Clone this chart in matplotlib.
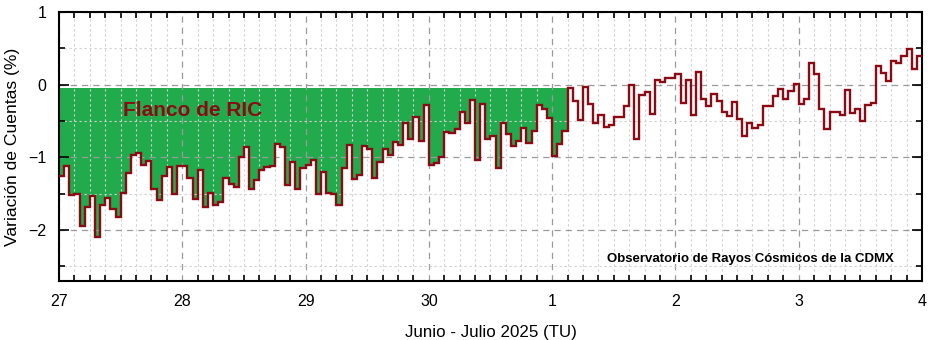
import numpy as np
import matplotlib
matplotlib.use("Agg")
import matplotlib.pyplot as plt
from matplotlib.ticker import MultipleLocator

# hourly count variation (%), one list per day (UT)
jun27 = [-1.26, -1.12, -1.52, -1.51, -1.95, -1.68, -1.53, -2.09, -1.66, -1.56, -1.71, -1.82,
         -1.49, -1.22, -0.97, -0.94, -1.10, -1.05, -1.43, -1.58, -1.25, -1.13, -1.50, -1.12]
jun28 = [-1.12, -1.28, -1.57, -1.18, -1.68, -1.49, -1.66, -1.61, -1.29, -1.37, -1.41, -0.99,
         -0.86, -1.44, -1.31, -1.18, -1.13, -1.12, -0.82, -0.85, -1.38, -1.06, -1.44, -1.14]
jun29 = [-1.11, -1.04, -1.51, -1.20, -1.49, -1.50, -1.66, -1.15, -0.83, -1.30, -1.24, -0.84,
         -0.89, -1.29, -1.06, -0.88, -0.96, -0.79, -0.83, -0.53, -0.75, -0.45, -0.77, -0.28]
jun30 = [-1.11, -1.08, -0.99, -0.65, -0.67, -0.61, -0.38, -0.53, -0.21, -1.04, -0.27, -0.75,
         -0.71, -1.14, -0.52, -0.68, -0.84, -0.78, -0.60, -0.80, -0.63, -0.28, -0.33, -0.46]
jul01 = [-0.98, -0.82, -0.64, -0.05, -0.22, -0.49, -0.03, -0.27, -0.52, -0.41, -0.58, -0.55,
         -0.45, -0.45, -0.29, 0.00, -0.75, -0.14, -0.10, -0.40, 0.06, 0.04, 0.09, 0.09]
jul02 = [0.15, -0.25, 0.07, -0.41, 0.18, -0.20, -0.29, -0.13, -0.22, -0.38, -0.43, -0.24,
         -0.47, -0.71, -0.53, -0.60, -0.55, -0.29, -0.29, -0.15, -0.06, -0.20, -0.08, 0.01]
jul03 = [-0.27, -0.20, 0.30, 0.15, -0.33, -0.61, -0.37, -0.37, -0.41, -0.07, -0.39, -0.34,
         -0.50, -0.28, -0.25, 0.26, 0.16, 0.05, 0.32, 0.30, 0.39, 0.49, 0.21, 0.39]

day_labels = ["27", "28", "29", "30", "1", "2", "3", "4"]
flanco_hours = 99      # hours covered by the Forbush decrease flank
flanco_top = -0.04

RED = "#8c0a14"
GREEN = "#22ab4c"

plt.rcParams["font.family"] = ["Liberation Sans", "DejaVu Sans"]


def build_series():
    vals = np.array(jun27 + jun28 + jun29 + jun30 + jul01 + jul02 + jul03)
    edges = np.arange(len(vals) + 1)
    return vals, edges


def plot_chart(out_path):
    vals, edges = build_series()
    fig = plt.figure(figsize=(9.31, 3.40), dpi=100)
    ax = fig.add_axes([0.0634, 0.1735, 0.9269, 0.7912])

    ax.stairs(vals[:flanco_hours], edges[:flanco_hours + 1], baseline=flanco_top,
              fill=True, color=GREEN, zorder=1)
    ax.stairs(vals, edges, baseline=None, color=RED, lw=1.7, zorder=3)

    ax.set_xlim(0, len(vals))
    ax.set_ylim(-2.7, 1)
    ax.set_xticks(np.arange(0, len(vals) + 1, 24))
    ax.set_xticklabels(day_labels)
    ax.xaxis.set_minor_locator(MultipleLocator(3))
    ax.set_yticks([-2, -1, 0, 1])
    ax.yaxis.set_minor_locator(MultipleLocator(0.5))

    ax.grid(True, which="major", color="#9a9a9a", ls=(0, (5, 4)), lw=0.9)
    ax.grid(True, which="minor", color="#d0d0d0", ls=(0, (2, 2.5)), lw=0.8)

    ax.tick_params(which="both", direction="in", top=True, right=True,
                   labelsize=11.5, width=1.2, pad=9)
    ax.tick_params(which="major", length=7)
    ax.tick_params(which="minor", length=4)
    ax.tick_params(axis="x", which="major", length=0)
    for s in ax.spines.values():
        s.set_linewidth(1.5)

    ax.set_ylabel("Variación de Cuentas (%)", fontsize=12.6, labelpad=6)
    ax.set_xlabel("Junio - Julio 2025 (TU)", fontsize=12.2, labelpad=12)

    ax.text(12.5, -0.36, "Flanco de RIC", color=RED, fontsize=15,
            fontweight="bold", va="center", ha="left", zorder=4)
    ax.text(162.6, -2.4, "Observatorio de Rayos Cósmicos de la CDMX", color="black",
            fontsize=9.5, fontweight="bold", va="center", ha="right", zorder=4)

    fig.savefig(out_path, dpi=100)
    plt.close(fig)


if __name__ == "__main__":
    plot_chart("out.png")
